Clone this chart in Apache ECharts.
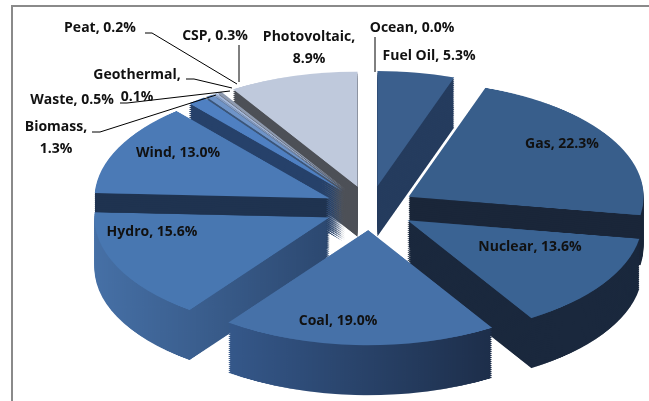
<!DOCTYPE html>
<html><head><meta charset="utf-8">
<script src="https://cdn.jsdelivr.net/npm/echarts@6/dist/echarts.min.js"></script>
<style>
html,body{margin:0;padding:0;width:649px;height:401px;overflow:hidden;background:#fff}
#pie{position:absolute;left:0;top:0;width:649px;transform-origin:0 0}
#lab{position:absolute;left:0;top:0;width:649px;height:401px}
</style></head><body>
<div id="pie"></div><div id="lab"></div>
<script>
// ---- data ----
const categories = ['Ocean','Fuel Oil','Gas','Nuclear','Coal','Hydro','Wind','Biomass','Waste','Geothermal','Peat','CSP','Photovoltaic'];
const shares     = [0.0, 5.3, 22.3, 13.6, 19.0, 15.6, 13.0, 1.3, 0.5, 0.1, 0.2, 0.3, 8.9];

// ---- styles ----
const topColors  = ['#3b5f8d','#3b5f8d','#385e8b','#3a6393','#4671a8','#4877b1','#4b7ab6','#4f80c2','#6f94c8','#8aa6d0','#a3b7da','#8f9bb0','#bfc9dc'];
function grad(a,b){return {type:'linear',x:0,y:0,x2:1,y2:0,colorStops:[{offset:0,color:a},{offset:1,color:b}]};}
const sideColors = ['#24395a','#253c5e','#1a2639','#1a283d',grad('#35588a','#1d2e4a'),grad('#4670a6','#2c4870'),'#1f3350','#26416a','#3b5578','#56698a','#6b7b96','#5b5e66','#4d5057'];

const TILT = 0.49, CX = 370, CY = 208, R = 235, EXPLODE = 45, DEPTH = 50, STEP = 2;

const pieDiv = document.getElementById('pie');
pieDiv.style.height = (401 / TILT) + 'px';
pieDiv.style.transform = 'scaleY(' + TILT + ')';

function pieSeries(colors, dy, z){
  return {
    type:'pie', center:[CX, (CY+dy)/TILT], radius:R, startAngle:90, clockwise:true,
    selectedMode:'multiple', selectedOffset:EXPLODE, avoidLabelOverlap:false,
    silent:true, animation:false, z:z,
    label:{show:false}, labelLine:{show:false},
    emphasis:{disabled:true}, select:{itemStyle:{borderWidth:0}},
    itemStyle:{borderWidth:0},
    data: categories.map((n,i)=>({name:n, value:shares[i], selected:true, itemStyle:{color:colors[i]}}))
  };
}
const pieList = [];
let zi = 1;
for (let k = DEPTH; k >= STEP; k -= STEP) pieList.push(pieSeries(sideColors, k, zi++));
pieList.push(pieSeries(topColors, 0, zi++));

const pieChart = echarts.init(pieDiv, null, {renderer:'canvas'});
pieChart.setOption({animation:false, series: pieList});

// ---- labels ----
const insideLabels = ['Gas','Nuclear','Coal','Hydro','Wind'];
const twoLine = ['Biomass','Geothermal','Photovoltaic'];
const labelPos = {
  'Ocean':[412,28], 'Fuel Oil':[429,56], 'Gas':[562,144], 'Nuclear':[530,247], 'Coal':[338,321],
  'Hydro':[152,232], 'Wind':[178,153], 'Biomass':[56,138], 'Waste':[72,100], 'Geothermal':[137,86],
  'Peat':[100,28], 'CSP':[215,36], 'Photovoltaic':[309,48]
};
const guideLines = {
  'Ocean':[[375,37],[375,55],[375,72]],
  'Peat':[[145,33],[152,33],[237,84]],
  'CSP':[[239,45],[239,60],[239,82]],
  'Geothermal':[[186,79],[194,79],[232,88]],
  'Waste':[[120,103],[127,103],[230,91]],
  'Biomass':[[92,132],[100,132],[216,95]]
};

const labChart = echarts.init(document.getElementById('lab'), null, {renderer:'canvas'});
labChart.setOption({
  animation:false,
  graphic:[{type:'rect', silent:true, shape:{x:12,y:6,width:800,height:600}, style:{fill:'none', stroke:'#8a8a8a', lineWidth:2}}],
  series:[{
    type:'pie', center:[CX, CY], radius:120, startAngle:90, clockwise:true, silent:true,
    avoidLabelOverlap:false, animation:false,
    itemStyle:{color:'rgba(0,0,0,0)'},
    label:{show:true, color:'#111', fontFamily:'Open Sans', fontWeight:'bold', fontSize:14, lineHeight:22,
      formatter: p => p.name + (twoLine.includes(p.name) ? ',\n' : ', ') + Number(p.value).toFixed(1) + '%'},
    labelLine:{show:true, length:10, length2:10, lineStyle:{color:'#000', width:1}},
    labelLayout: function(p){
      const n = categories[p.dataIndex];
      const pos = labelPos[n];
      const o = {x:pos[0], y:pos[1], align:'center', verticalAlign:'middle'};
      if (guideLines[n]) o.labelLinePoints = guideLines[n];
      return o;
    },
    data: categories.map((n,i)=>({
      name:n, value:shares[i],
      label:{position: insideLabels.includes(n) ? 'inside' : 'outside'},
      labelLine:{show: !!guideLines[n]}
    }))
  }]
});
</script>
</body></html>
